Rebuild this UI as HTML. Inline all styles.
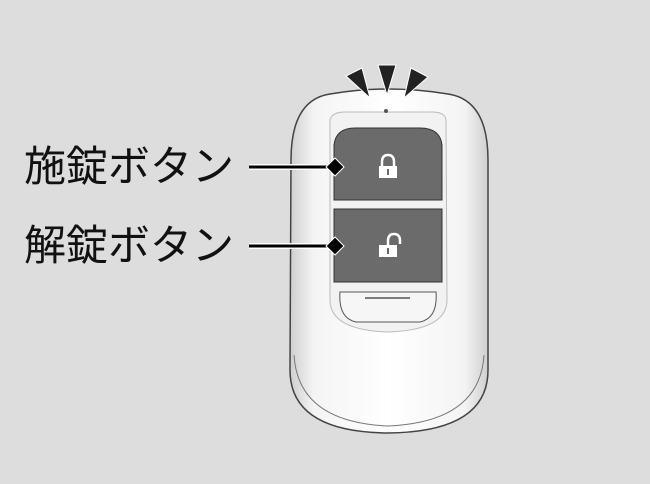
<!DOCTYPE html>
<html><head><meta charset="utf-8"><style>
html,body{margin:0;padding:0;background:#dcdddc;}
svg{display:block}
text{font-family:"Liberation Sans","Noto Sans CJK JP",sans-serif;font-size:42px;fill:#111}
</style></head><body>
<svg width="650" height="484" viewBox="0 0 650 484" xmlns="http://www.w3.org/2000/svg">
<rect width="650" height="484" fill="#dcdddc"/>
<defs>
<linearGradient id="g" x1="0" x2="1" y1="0" y2="0">
<stop offset="0" stop-color="#cfcfcf"/><stop offset="0.12" stop-color="#f4f4f4"/><stop offset="0.5" stop-color="#ffffff"/><stop offset="0.88" stop-color="#f4f4f4"/><stop offset="1" stop-color="#cfcfcf"/>
</linearGradient>
</defs>
<path d="M291 160 Q291 100 330 94 Q360 89 388 89 Q418 89 448 94 Q488 100 488 160 L488 370 Q488 432 388 433 Q290 432 290 370 Z" fill="url(#g)" stroke="#444" stroke-width="1.5"/>
<path d="M294 355 Q298 422 388 426 Q480 422 484 355" fill="none" stroke="#777" stroke-width="1"/>
<path d="M330 120 Q332 112 345 112 L432 112 Q445 112 446 120 L447 300 Q447 330 388 332 Q330 330 330 300 Z" fill="#f2f2f2" stroke="#bbb" stroke-width="1"/>
<path d="M334 200 L334 145 Q336 128 355 128 L420 128 Q440 128 442 145 L442 200 Z" fill="#6b6b6b" stroke="#333" stroke-width="1"/>
<rect x="334" y="209" width="108" height="73" fill="#6b6b6b" stroke="#333" stroke-width="1"/>
<path d="M340 292 L436 292 Q438 318 420 322 L356 322 Q338 318 340 292 Z" fill="#f6f6f6" stroke="#555" stroke-width="1"/>
<path d="M365 298 L410 298" stroke="#555" stroke-width="1.5"/>
<path d="M382 167 L382 162 Q382 155 388 155 Q394 155 394 162 L394 167" fill="none" stroke="#fff" stroke-width="2.5"/>
<rect x="379" y="166" width="18" height="12" fill="#fff"/>
<rect x="387" y="169" width="2" height="6" fill="#6b6b6b"/>
<path d="M382 246 L382 241 Q382 234 388 234 Q394 234 394 241 L394 244" fill="none" stroke="#fff" stroke-width="2.5" transform="translate(6,0)"/>
<rect x="379" y="245" width="18" height="12" fill="#fff"/>
<rect x="387" y="248" width="2" height="6" fill="#6b6b6b"/>
<circle cx="386" cy="111" r="2" fill="#555"/>
<polygon points="346,76 362,68 370,98" fill="#222" stroke="#fff" stroke-width="1"/>
<polygon points="378,65 396,65 387,95" fill="#222" stroke="#fff" stroke-width="1"/>
<polygon points="411,68 428,77 404,98" fill="#222" stroke="#fff" stroke-width="1"/>
<text x="24" y="181">施錠ボタン</text>
<text x="24" y="260">解錠ボタン</text>
<line x1="249" y1="167" x2="330" y2="167" stroke="#fff" stroke-width="6"/>
<line x1="249" y1="167" x2="330" y2="167" stroke="#000" stroke-width="3"/>
<polygon points="335,158 344,167 335,176 326,167" fill="#000" stroke="#fff" stroke-width="1"/>
<line x1="249" y1="246" x2="330" y2="246" stroke="#fff" stroke-width="6"/>
<line x1="249" y1="246" x2="330" y2="246" stroke="#000" stroke-width="3"/>
<polygon points="335,237 344,246 335,255 326,246" fill="#000" stroke="#fff" stroke-width="1"/>
</svg>
</body></html>
